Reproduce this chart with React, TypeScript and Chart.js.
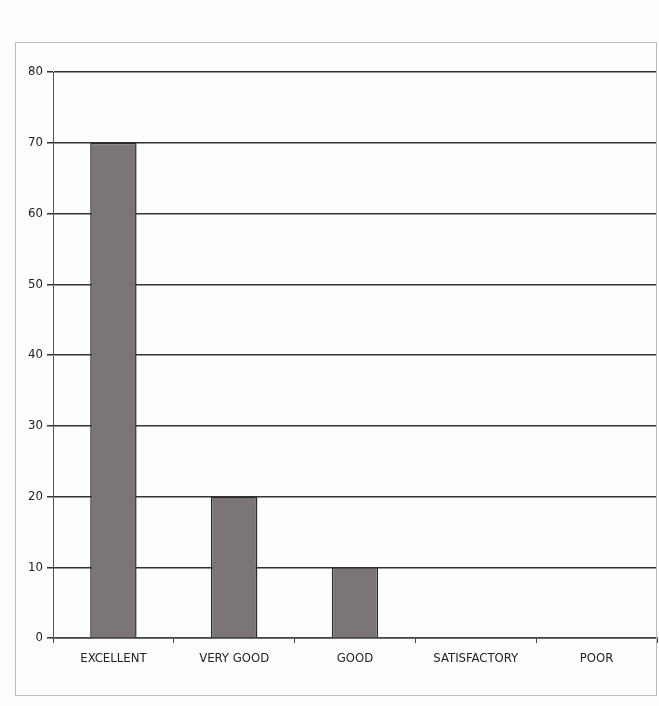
import React, { useEffect, useRef } from "react";
import { Chart, registerables } from "chart.js";

Chart.register(...registerables);

const categories = ["EXCELLENT", "VERY GOOD", "GOOD", "SATISFACTORY", "POOR"];
const values = [70, 20, 10, 0, 0];
const yMin = 0;
const yMax = 80;
const yStep = 10;

const FONT = "'Liberation Sans Narrow', 'DejaVu Sans Condensed', 'Liberation Sans', sans-serif";

export default function App() {
  const ref = useRef<HTMLCanvasElement | null>(null);

  useEffect(() => {
    if (!ref.current) return;
    const chart = new Chart(ref.current, {
      type: "bar",
      data: {
        labels: categories,
        datasets: [
          {
            data: values,
            backgroundColor: "#7b7478",
            borderColor: "#2e2a2c",
            borderWidth: 1.5,
            barPercentage: 0.48,
            categoryPercentage: 0.8,
          },
        ],
      },
      options: {
        animation: false,
        responsive: false,
        maintainAspectRatio: false,
        layout: { padding: { top: 72, left: 17, right: 2, bottom: 20 } },
        plugins: { legend: { display: false }, tooltip: { enabled: false } },
        scales: {
          x: {
            grid: {
              display: true,
              drawOnChartArea: false,
              drawTicks: true,
              tickLength: 5,
              color: "#444",
              lineWidth: 1,
              offset: true,
            },
            border: { display: true, color: "#444", width: 1.5 },
            ticks: {
              color: "#222",
              font: { family: FONT, size: 13 },
              padding: 8,
              maxRotation: 0,
            },
            afterFit: (s: any) => {
              s.height = 48;
            },
          },
          y: {
            min: yMin,
            max: yMax,
            ticks: {
              stepSize: yStep,
              color: "#222",
              font: { family: FONT, size: 13 },
              padding: 4,
            },
            grid: {
              color: "#333",
              lineWidth: 1.5,
              tickLength: 6,
            },
            border: { display: true, color: "#555", width: 1 },
            afterFit: (s: any) => {
              s.width = 36;
            },
          },
        },
      },
    });
    return () => chart.destroy();
  }, []);

  return (
    <div
      style={{
        position: "fixed",
        left: 0,
        top: 0,
        width: 659,
        height: 706,
        background: "#fdfdfd",
      }}
    >
      <canvas ref={ref} width={659} height={706} style={{ display: "block" }} />
      <div
        style={{
          position: "absolute",
          left: 15,
          top: 42,
          width: 640,
          height: 652,
          border: "1px solid #bbb",
          pointerEvents: "none",
        }}
      />
    </div>
  );
}
